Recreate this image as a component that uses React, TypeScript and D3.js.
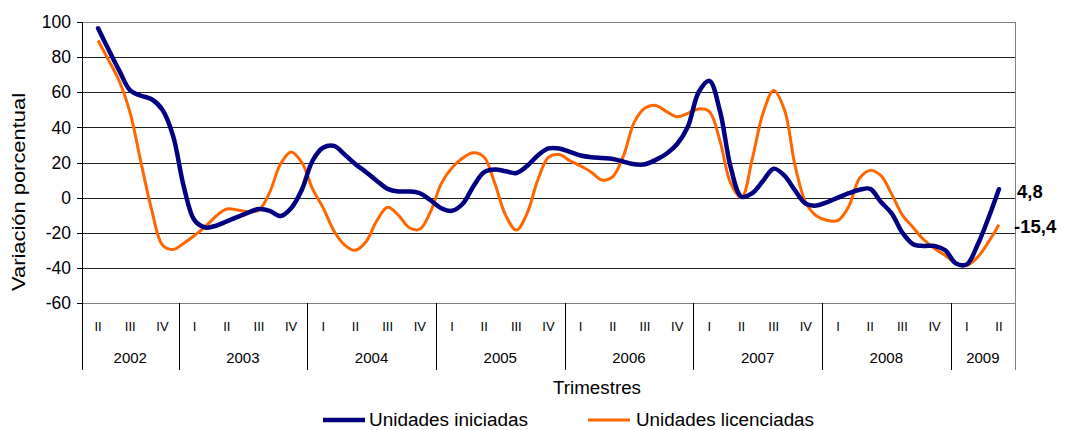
import React from "react";
import * as d3 from "d3";

// Monthly values, 2002 II (mid) to 2009 II (mid)
const iniciadas: number[] = [
  96.4, 84, 72, 61, 58, 56, 50, 35, 6, -13, -17, -16, -13.5, -11, -8.5,
  -6.5, -7.5, -10.5, -6, 4.5, 21, 28.5, 29.5, 24.5, 19, 14.5, 9.5, 5, 3.5, 3.5,
  2.5, -1.5, -6, -7.5, -3.5, 6.5, 14.5, 16, 15, 14, 18, 24, 28, 28,
  26, 24, 23, 22.5, 22, 20.5, 19, 19, 21.5, 25, 30.5, 40.5, 60, 66.5,
  49, 17, 0.5, 2.5, 9.5, 16.5, 12.5, 4, -3.5, -4.5, -2.5, 0, 2.5, 4.5, 5,
  -2.5, -9, -20, -26.5, -27.5, -27.5, -30, -37.5, -38, -27, -12, 4.8,
];
const licenciadas: number[] = [
  89.5, 78, 66, 48, 20, -7, -27, -29.5, -26, -21.5, -16.5, -10.5, -6.5, -7, -8,
  -7, 3, 19, 26, 20, 5, -6, -19, -27, -30, -25, -13, -5.5, -10, -17,
  -18, -8, 8, 17, 22.5, 25.5, 23, 8, -10, -18.5, -9, 10, 23, 24.5,
  21, 18, 14.5, 10, 12, 24, 43, 51, 52.5, 49, 46, 48, 50.5, 49,
  32, 8, 0, 22, 48, 61, 50, 18, -3, -10.5, -13, -13, -5, 11, 15.5,
  12.5, 2, -10, -17, -24, -29, -33, -37.5, -38.5, -34, -25.5, -15.4,
];
const quarterNames = ["I", "II", "III", "IV"];
const firstQuarterIdx = 1; // 2002 II
const years = [2002, 2003, 2004, 2005, 2006, 2007, 2008, 2009];
const yTicks = [100, 80, 60, 40, 20, 0, -20, -40, -60];
const endLabels = ["4,8", "-15,4"];
const seriesNames = ["Unidades iniciadas", "Unidades licenciadas"];

const nQuarters = 29;
const L = 82, R = 1015, T = 22, B = 303;
const FONT = "Arial, 'Liberation Sans', sans-serif";

export default function App() {
  const y = d3.scaleLinear().domain([-60, 100]).range([B, T]);
  const xq = d3.scaleLinear().domain([0, nQuarters]).range([L, R]);
  const xm = (m: number) => xq(0.5 + m / 3);
  const line = d3
    .line<number>()
    .x((_, i) => xm(i))
    .y((d) => y(d))
    .curve(d3.curveCatmullRom.alpha(0.5));

  const quarters = d3.range(nQuarters).map((q) => ({
    q,
    label: quarterNames[(q + firstQuarterIdx) % 4],
  }));
  const yearSpans: { year: number; start: number; end: number }[] = [];
  let qi = 0;
  years.forEach((yr, i) => {
    const startQ = i === 0 ? firstQuarterIdx : 0;
    const len = Math.min(4 - startQ, nQuarters - qi);
    yearSpans.push({ year: yr, start: qi, end: qi + len });
    qi += len;
  });
  const crisp = (v: number) => Math.round(v) + 0.5;

  return (
    <svg width={1069} height={430} style={{ position: "absolute", left: 0, top: 0, fontFamily: FONT }}>
      <rect width={1069} height={430} fill="#fff" />
      {yTicks.map((t) => (
        <line key={t} x1={L} x2={R} y1={crisp(y(t))} y2={crisp(y(t))} stroke={t === 100 || t === -60 ? "#808080" : "#222"} strokeWidth={1} />
      ))}
      <line x1={crisp(R)} x2={crisp(R)} y1={T} y2={370} stroke="#808080" />
      <line x1={crisp(L)} x2={crisp(L)} y1={T} y2={370} stroke="#000" />
      {yTicks.map((t) => (
        <g key={"t" + t}>
          <line x1={L - 5} x2={L} y1={crisp(y(t))} y2={crisp(y(t))} stroke="#000" />
          <text x={71} y={y(t)} dy="0.35em" textAnchor="end" fontSize={17.5} fill="#000">
            {t}
          </text>
        </g>
      ))}
      {quarters.map((d) => (
        <text key={"q" + d.q} x={xq(d.q + 0.5)} y={326} dy="0.35em" textAnchor="middle" fontSize={13} fill="#000">
          {d.label}
        </text>
      ))}
      {yearSpans.map((s) => (
        <g key={s.year}>
          {s.start > 0 && <line x1={crisp(xq(s.start))} x2={crisp(xq(s.start))} y1={B} y2={370} stroke="#000" />}
          <text x={(xq(s.start) + xq(s.end)) / 2} y={358} dy="0.35em" textAnchor="middle" fontSize={15} fill="#000">
            {s.year}
          </text>
        </g>
      ))}
      <path d={line(licenciadas) || ""} fill="none" stroke="#FF6600" strokeWidth={3} strokeLinejoin="round" />
      <path d={line(iniciadas) || ""} fill="none" stroke="#000080" strokeWidth={4.5} strokeLinejoin="round" strokeLinecap="round" />
      <text x={1017} y={y(iniciadas[iniciadas.length - 1]) + 2} dy="0.35em" fontSize={18.5} fontWeight="bold" fill="#000">
        {endLabels[0]}
      </text>
      <text x={1014} y={y(licenciadas[licenciadas.length - 1]) + 2} dy="0.35em" fontSize={18.5} fontWeight="bold" fill="#000">
        {endLabels[1]}
      </text>
      <text transform="translate(19,192) rotate(-90)" dy="0.35em" textAnchor="middle" fontSize={18} textLength={198} lengthAdjust="spacingAndGlyphs" fill="#000">
        Variación porcentual
      </text>
      <text x={597} y={388} dy="0.35em" textAnchor="middle" fontSize={18} textLength={88} lengthAdjust="spacingAndGlyphs" fill="#000">
        Trimestres
      </text>
      <line x1={323} x2={365} y1={420} y2={420} stroke="#000080" strokeWidth={4.5} />
      <text x={369} y={420} dy="0.35em" fontSize={18} textLength={159} lengthAdjust="spacingAndGlyphs" fill="#000">
        {seriesNames[0]}
      </text>
      <line x1={588} x2={630} y1={420} y2={420} stroke="#FF6600" strokeWidth={3} />
      <text x={636} y={420} dy="0.35em" fontSize={18} textLength={178} lengthAdjust="spacingAndGlyphs" fill="#000">
        {seriesNames[1]}
      </text>
    </svg>
  );
}
